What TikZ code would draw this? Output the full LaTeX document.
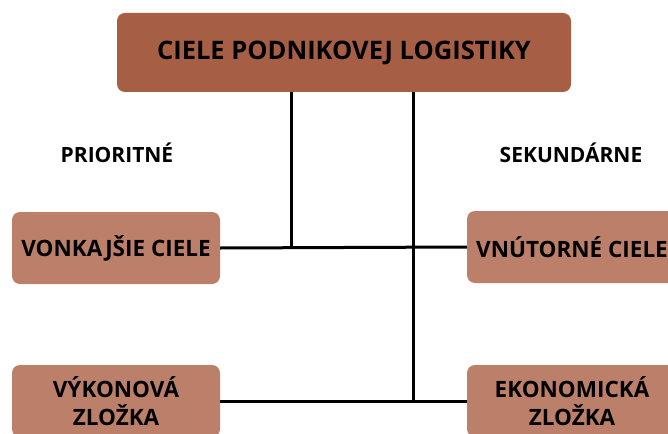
\documentclass[tikz,border=0pt]{standalone}
\usepackage{fontspec}
\setmainfont{Open Sans}
\usetikzlibrary{positioning, calc}
\definecolor{rustbrown}{HTML}{A65F45}
\definecolor{claybrown}{HTML}{BC806A}

\begin{document}
\begin{tikzpicture}[
    x=1pt, y=-1pt,
    goal/.style={rectangle, fill=claybrown, minimum width=208pt,
                minimum height=72pt, rounded corners=8pt, align=center,
                font=\fontsize{22.5}{28}\selectfont\bfseries, inner sep=0pt},
    label/.style={font=\fontsize{21}{24}\selectfont\bfseries},
    link/.style={line width=3pt, black}
]
\clip (0,0) rectangle (668,433);
\fill[white] (0,0) rectangle (668,433);

% Main goal
\node[rectangle, fill=rustbrown, minimum width=454pt, minimum height=79pt,
      rounded corners=8pt, font=\fontsize{25.5}{30}\selectfont\bfseries]
      at (344,52.5) (main) {CIELE PODNIKOVEJ LOGISTIKY};

% Headings
\node[label] at (117,153) (prio) {PRIORITNÉ};
\node[label] at (571,153) (seku) {SEKUNDÁRNE};

% Sub goals
\node[goal] at (116,248) (vonk) {VONKAJŠIE CIELE};
\node[goal, minimum width=210pt] at (572,247) (vnut) {VNÚTORNÉ CIELE};
\node[goal] at (116,401) (vyk) {VÝKONOVÁ\\ZLOŽKA};
\node[goal, minimum width=210pt] at (572,401) (eko) {EKONOMICKÁ\\ZLOŽKA};

% Junctions
\coordinate (jl) at (291,247);
\coordinate (jr) at (413,401);

% Connectors
\draw[link] (main.south -| jl) -- (jl);
\draw[link] (main.south -| jr) -- (jr);
\draw[link] (vonk.east) -- (vnut.west);
\draw[link] (vyk.east) -- (eko.west);

\end{tikzpicture}
\end{document}
